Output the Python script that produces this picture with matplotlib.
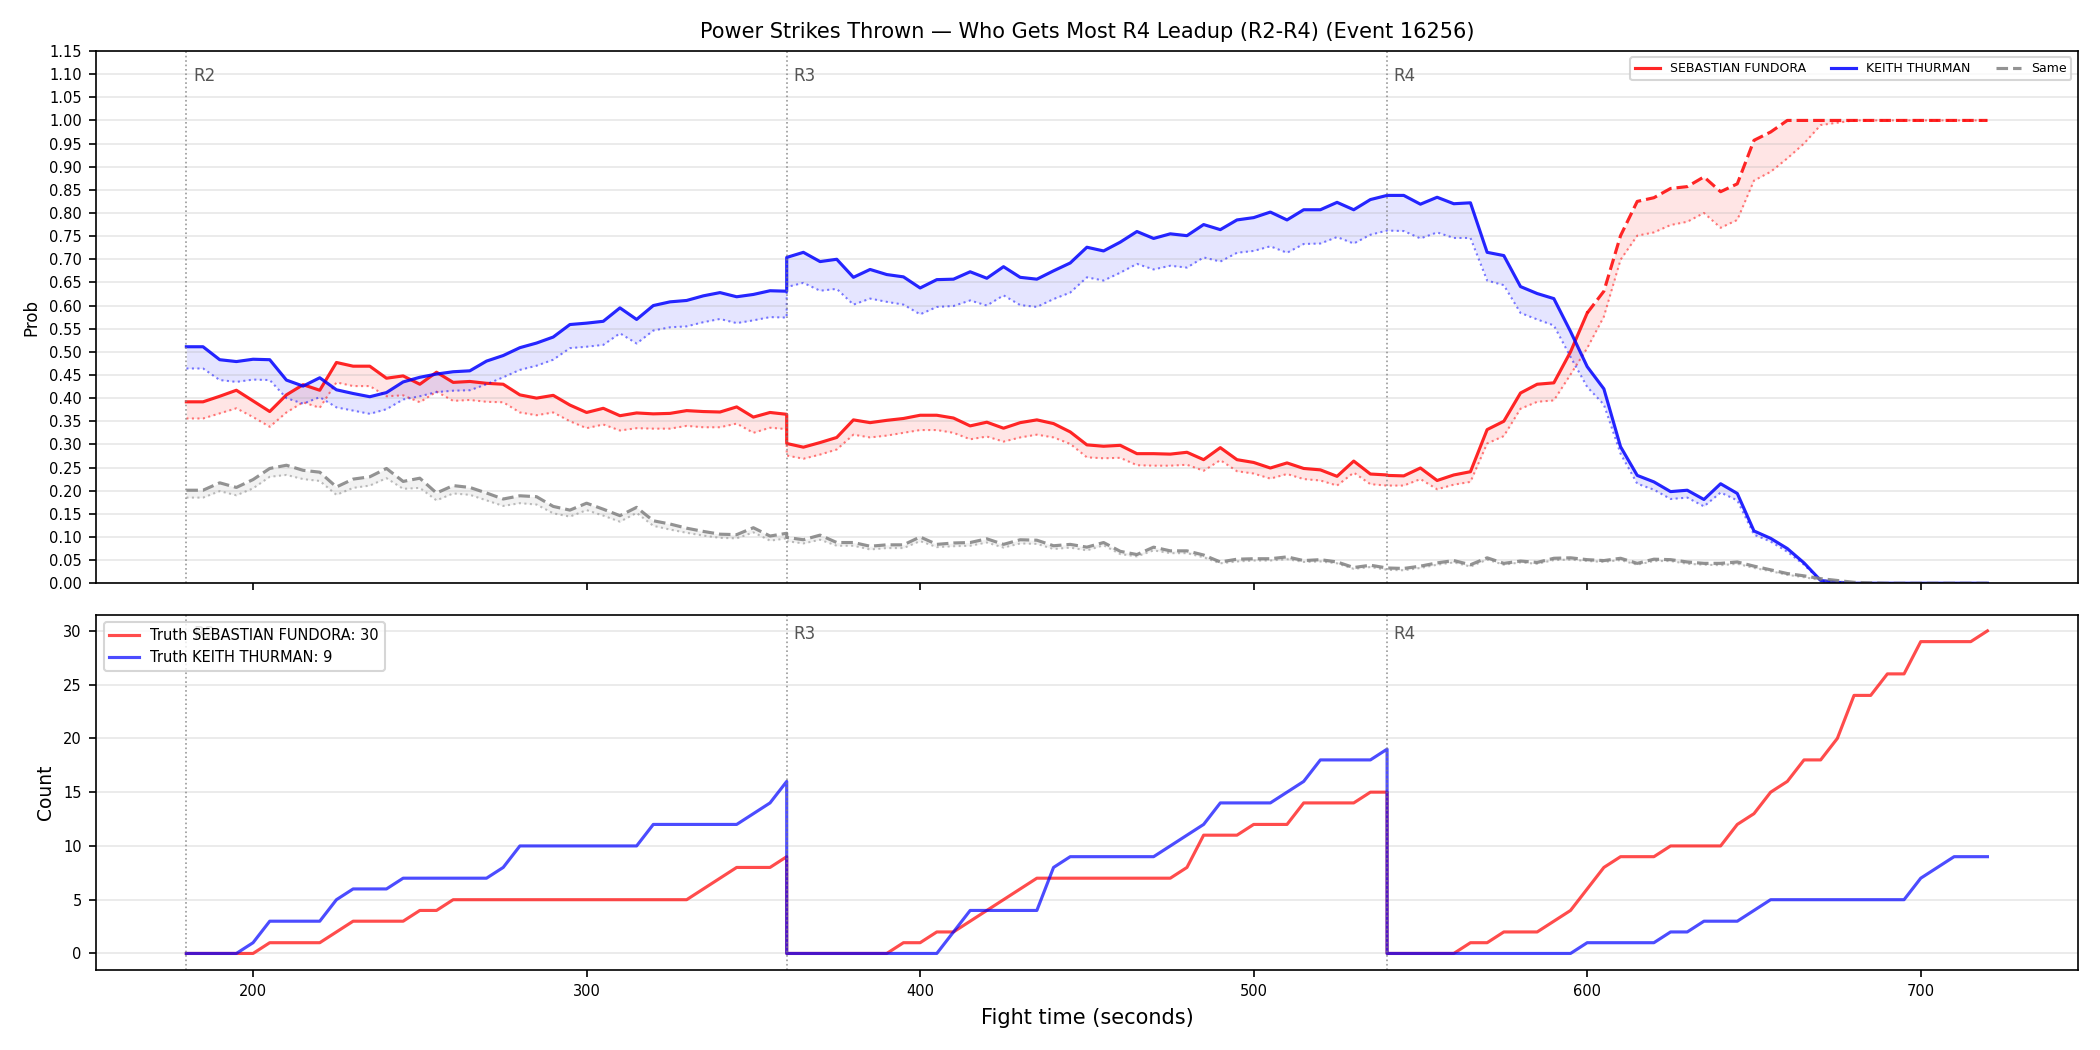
import numpy as np
import matplotlib
matplotlib.use('Agg')
from matplotlib import pyplot as plt

red_name = 'SEBASTIAN FUNDORA'
blue_name = 'KEITH THURMAN'
round_starts = [180, 360, 540]
round_labels = ['R2', 'R3', 'R4']

# time grid: each round is 180s sampled every 5s (round edges repeat)
t_r2 = np.arange(180, 361, 5)
t_r3 = np.arange(360, 541, 5)
t_r4 = np.arange(540, 721, 5)

# P(most power strikes) -- Fundora
fun_r2 = [0.392, 0.392, 0.404, 0.417, 0.394, 0.371, 0.407, 0.429, 0.417, 0.477, 0.469, 0.469, 0.443, 0.448, 0.430, 0.456, 0.434, 0.436,
          0.432, 0.430, 0.407, 0.400, 0.406, 0.385, 0.369, 0.378, 0.362, 0.368, 0.366, 0.367, 0.373, 0.371, 0.370, 0.381, 0.359, 0.369, 0.365]
fun_r3 = [0.302, 0.294, 0.304, 0.315, 0.353, 0.347, 0.352, 0.356, 0.363, 0.363, 0.357, 0.340, 0.348, 0.335, 0.347, 0.353, 0.345, 0.327,
          0.299, 0.296, 0.298, 0.280, 0.280, 0.279, 0.283, 0.267, 0.293, 0.267, 0.261, 0.249, 0.260, 0.248, 0.245, 0.231, 0.264, 0.236, 0.234]
fun_r4 = [0.233, 0.232, 0.249, 0.222, 0.234, 0.241, 0.332, 0.350, 0.411, 0.430, 0.433, 0.500, 0.584, 0.631, 0.751, 0.825, 0.833, 0.853,
          0.857, 0.878, 0.846, 0.863, 0.957, 0.975, 1.0, 1.0, 1.0, 1.0, 1.0, 1.0, 1.0, 1.0, 1.0, 1.0, 1.0, 1.0, 1.0]
fun_lo_r2 = [0.356, 0.356, 0.367, 0.378, 0.359, 0.338, 0.369, 0.391, 0.379, 0.434, 0.426, 0.426, 0.404, 0.406, 0.391, 0.414, 0.394, 0.396,
             0.392, 0.391, 0.369, 0.363, 0.369, 0.350, 0.335, 0.343, 0.330, 0.335, 0.334, 0.334, 0.340, 0.337, 0.337, 0.345, 0.325, 0.336, 0.333]
fun_lo_r3 = [0.276, 0.269, 0.278, 0.289, 0.321, 0.315, 0.319, 0.325, 0.331, 0.331, 0.325, 0.311, 0.317, 0.306, 0.315, 0.321, 0.315, 0.301,
             0.272, 0.270, 0.271, 0.255, 0.254, 0.254, 0.256, 0.243, 0.266, 0.242, 0.237, 0.226, 0.236, 0.225, 0.222, 0.211, 0.239, 0.214, 0.211]
fun_lo_r4 = [0.211, 0.211, 0.225, 0.203, 0.213, 0.219, 0.302, 0.318, 0.377, 0.392, 0.395, 0.451, 0.508, 0.576, 0.699, 0.751, 0.758, 0.774,
             0.781, 0.800, 0.768, 0.785, 0.870, 0.889, 0.918, 0.950, 0.990, 0.995, 1.0, 1.0, 1.0, 1.0, 1.0, 1.0, 1.0, 1.0, 1.0]

# Thurman
thu_r2 = [0.511, 0.511, 0.483, 0.479, 0.484, 0.483, 0.439, 0.426, 0.444, 0.418, 0.410, 0.403, 0.412, 0.435, 0.445, 0.452, 0.457, 0.459,
          0.480, 0.492, 0.509, 0.519, 0.532, 0.559, 0.562, 0.566, 0.595, 0.570, 0.600, 0.608, 0.611, 0.621, 0.628, 0.619, 0.624, 0.632, 0.631]
thu_r3 = [0.704, 0.715, 0.695, 0.700, 0.661, 0.678, 0.667, 0.662, 0.638, 0.656, 0.657, 0.673, 0.659, 0.684, 0.661, 0.657, 0.675, 0.692,
          0.726, 0.718, 0.737, 0.760, 0.745, 0.755, 0.751, 0.775, 0.764, 0.785, 0.790, 0.802, 0.785, 0.807, 0.807, 0.823, 0.807, 0.829, 0.838]
thu_r4 = [0.838, 0.838, 0.819, 0.834, 0.820, 0.822, 0.715, 0.708, 0.641, 0.626, 0.615, 0.544, 0.468, 0.420, 0.295, 0.233, 0.219, 0.198,
          0.201, 0.181, 0.215, 0.194, 0.113, 0.097, 0.075, 0.044, 0.006, 0.002, 0.0, 0.0, 0.0, 0.0, 0.0, 0.0, 0.0, 0.0, 0.0]
thu_lo_r2 = [0.464, 0.464, 0.439, 0.435, 0.440, 0.439, 0.400, 0.388, 0.402, 0.380, 0.373, 0.366, 0.376, 0.397, 0.404, 0.413, 0.416, 0.417,
             0.430, 0.445, 0.461, 0.470, 0.483, 0.508, 0.511, 0.515, 0.540, 0.518, 0.546, 0.553, 0.555, 0.564, 0.571, 0.562, 0.568, 0.575, 0.574]
thu_lo_r3 = [0.640, 0.649, 0.632, 0.636, 0.602, 0.615, 0.608, 0.602, 0.581, 0.597, 0.599, 0.611, 0.600, 0.622, 0.601, 0.597, 0.614, 0.628,
             0.661, 0.654, 0.671, 0.690, 0.678, 0.686, 0.682, 0.704, 0.695, 0.714, 0.718, 0.728, 0.714, 0.733, 0.734, 0.748, 0.734, 0.753, 0.762]
thu_lo_r4 = [0.762, 0.761, 0.745, 0.758, 0.746, 0.746, 0.654, 0.644, 0.584, 0.570, 0.557, 0.489, 0.424, 0.386, 0.280, 0.215, 0.202, 0.182,
             0.185, 0.166, 0.196, 0.179, 0.105, 0.090, 0.068, 0.040, 0.005, 0.001, 0.0, 0.0, 0.0, 0.0, 0.0, 0.0, 0.0, 0.0, 0.0]

# Same
same_r2 = [0.201, 0.201, 0.217, 0.207, 0.224, 0.248, 0.255, 0.244, 0.240, 0.208, 0.225, 0.230, 0.248, 0.220, 0.227, 0.195, 0.211, 0.207,
           0.195, 0.182, 0.189, 0.187, 0.166, 0.158, 0.173, 0.160, 0.146, 0.164, 0.135, 0.128, 0.119, 0.112, 0.106, 0.105, 0.120, 0.102, 0.108]
same_r3 = [0.099, 0.094, 0.104, 0.088, 0.088, 0.080, 0.083, 0.083, 0.100, 0.084, 0.087, 0.088, 0.096, 0.084, 0.094, 0.093, 0.081, 0.084,
           0.078, 0.088, 0.069, 0.062, 0.078, 0.070, 0.070, 0.061, 0.046, 0.052, 0.053, 0.053, 0.057, 0.049, 0.051, 0.046, 0.034, 0.039, 0.033]
same_r4 = [0.033, 0.032, 0.037, 0.044, 0.049, 0.040, 0.055, 0.043, 0.048, 0.045, 0.054, 0.055, 0.051, 0.049, 0.054, 0.043, 0.052, 0.051,
           0.046, 0.043, 0.043, 0.046, 0.037, 0.029, 0.021, 0.016, 0.010, 0.006, 0.002, 0.001, 0.0, 0.0, 0.0, 0.0, 0.0, 0.0, 0.0]
same_lo_r2 = [0.185, 0.185, 0.199, 0.190, 0.205, 0.230, 0.234, 0.225, 0.221, 0.191, 0.206, 0.211, 0.227, 0.204, 0.206, 0.179, 0.194, 0.191,
              0.179, 0.167, 0.173, 0.170, 0.151, 0.144, 0.158, 0.146, 0.133, 0.152, 0.124, 0.116, 0.109, 0.103, 0.098, 0.097, 0.110, 0.092, 0.097]
same_lo_r3 = [0.091, 0.086, 0.094, 0.081, 0.081, 0.073, 0.076, 0.076, 0.091, 0.078, 0.080, 0.081, 0.088, 0.077, 0.086, 0.085, 0.074, 0.077,
              0.071, 0.082, 0.063, 0.058, 0.071, 0.065, 0.065, 0.056, 0.043, 0.047, 0.049, 0.049, 0.052, 0.046, 0.047, 0.043, 0.031, 0.035, 0.029]
same_lo_r4 = [0.029, 0.028, 0.033, 0.040, 0.045, 0.036, 0.051, 0.040, 0.045, 0.042, 0.050, 0.051, 0.048, 0.046, 0.050, 0.040, 0.048, 0.048,
              0.042, 0.040, 0.039, 0.042, 0.033, 0.026, 0.018, 0.013, 0.007, 0.004, 0.001, 0.0, 0.0, 0.0, 0.0, 0.0, 0.0, 0.0, 0.0]

# cumulative power strikes within each round (truth)
cnt_fun_r2 = [0, 0, 0, 0, 0, 1, 1, 1, 1, 2, 3, 3, 3, 3, 4, 4, 5, 5,
              5, 5, 5, 5, 5, 5, 5, 5, 5, 5, 5, 5, 5, 6, 7, 8, 8, 8, 9]
cnt_fun_r3 = [0, 0, 0, 0, 0, 0, 0, 1, 1, 2, 2, 3, 4, 5, 6, 7, 7, 7,
              7, 7, 7, 7, 7, 7, 8, 11, 11, 11, 12, 12, 12, 14, 14, 14, 14, 15, 15]
cnt_fun_r4 = [0, 0, 0, 0, 0, 1, 1, 2, 2, 2, 3, 4, 6, 8, 9, 9, 9, 10,
              10, 10, 10, 12, 13, 15, 16, 18, 18, 20, 24, 24, 26, 26, 29, 29, 29, 29, 30]
cnt_thu_r2 = [0, 0, 0, 0, 1, 3, 3, 3, 3, 5, 6, 6, 6, 7, 7, 7, 7, 7,
              7, 8, 10, 10, 10, 10, 10, 10, 10, 10, 12, 12, 12, 12, 12, 12, 13, 14, 16]
cnt_thu_r3 = [0, 0, 0, 0, 0, 0, 0, 0, 0, 0, 2, 4, 4, 4, 4, 4, 8, 9,
              9, 9, 9, 9, 9, 10, 11, 12, 14, 14, 14, 14, 15, 16, 18, 18, 18, 18, 19]
cnt_thu_r4 = [0, 0, 0, 0, 0, 0, 0, 0, 0, 0, 0, 0, 1, 1, 1, 1, 1, 2,
              2, 3, 3, 3, 4, 5, 5, 5, 5, 5, 5, 5, 5, 5, 7, 8, 9, 9, 9]

t = np.concatenate([t_r2, t_r3, t_r4])
fun = np.concatenate([fun_r2, fun_r3, fun_r4])
fun_lo = np.concatenate([fun_lo_r2, fun_lo_r3, fun_lo_r4])
thu = np.concatenate([thu_r2, thu_r3, thu_r4])
thu_lo = np.concatenate([thu_lo_r2, thu_lo_r3, thu_lo_r4])
same = np.concatenate([same_r2, same_r3, same_r4])
same_lo = np.concatenate([same_lo_r2, same_lo_r3, same_lo_r4])
cnt_fun = np.concatenate([cnt_fun_r2, cnt_fun_r3, cnt_fun_r4])
cnt_thu = np.concatenate([cnt_thu_r2, cnt_thu_r3, cnt_thu_r4])

# Fundora line switches to dashed once the R4 call is locked (t >= 600)
lock = len(t_r2) + len(t_r3) + list(t_r4).index(600)

fig, (ax, ax2) = plt.subplots(2, 1, figsize=(14, 7), dpi=150, sharex=True,
                              gridspec_kw={'height_ratios': [3, 2]})

ax.fill_between(t, fun_lo, fun, color='red', alpha=0.1, lw=0)
ax.fill_between(t, thu_lo, thu, color='blue', alpha=0.1, lw=0)
ax.fill_between(t, same_lo, same, color='gray', alpha=0.1, lw=0)

ax.plot(t[:lock + 1], fun[:lock + 1], color='red', lw=1.5, alpha=0.85, label=red_name)
ax.plot(t[lock:], fun[lock:], color='red', lw=1.5, alpha=0.85, ls='--')
ax.plot(t, fun_lo, color='red', lw=1, alpha=0.5, ls=':')
ax.plot(t, thu, color='blue', lw=1.5, alpha=0.85, label=blue_name)
ax.plot(t, thu_lo, color='blue', lw=1, alpha=0.5, ls=':')
ax.plot(t, same, color='gray', lw=1.5, alpha=0.85, ls='--', label='Same')
ax.plot(t, same_lo, color='gray', lw=1, alpha=0.5, ls=':')

ax.set_ylim(0, 1.15)
ax.set_yticks(np.arange(0, 1.151, 0.05))
ax.tick_params(axis='y', labelsize=7)
ax.set_ylabel('Prob', fontsize=8)
ax.grid(axis='y', alpha=0.3)
ax.legend(loc='upper right', fontsize=6, ncol=3)
ax.set_title('Power Strikes Thrown \u2014 Who Gets Most R4 Leadup (R2-R4) (Event 16256)', fontsize=10)

ax2.plot(t, cnt_fun, color='red', lw=1.5, alpha=0.7, label=f'Truth {red_name}: {cnt_fun[-1]}')
ax2.plot(t, cnt_thu, color='blue', lw=1.5, alpha=0.7, label=f'Truth {blue_name}: {cnt_thu[-1]}')
ax2.set_ylabel('Count', fontsize=9)
ax2.set_xlabel('Fight time (seconds)', fontsize=10)
ax2.tick_params(labelsize=7)
ax2.grid(axis='y', alpha=0.3)

for a in (ax, ax2):
    y_top = a.get_ylim()[1]
    for x0, lab in zip(round_starts, round_labels):
        a.axvline(x0, color='gray', ls=':', lw=0.8, alpha=0.8)
        a.text(x0 + 2, y_top * 0.97, lab, fontsize=8, color='#555555', va='top')

leg2 = ax2.legend(loc='upper left', fontsize=7)
leg2.set_zorder(5)

ax.tick_params(axis='x', labelsize=7)
fig.tight_layout()
fig.savefig('out.png')
